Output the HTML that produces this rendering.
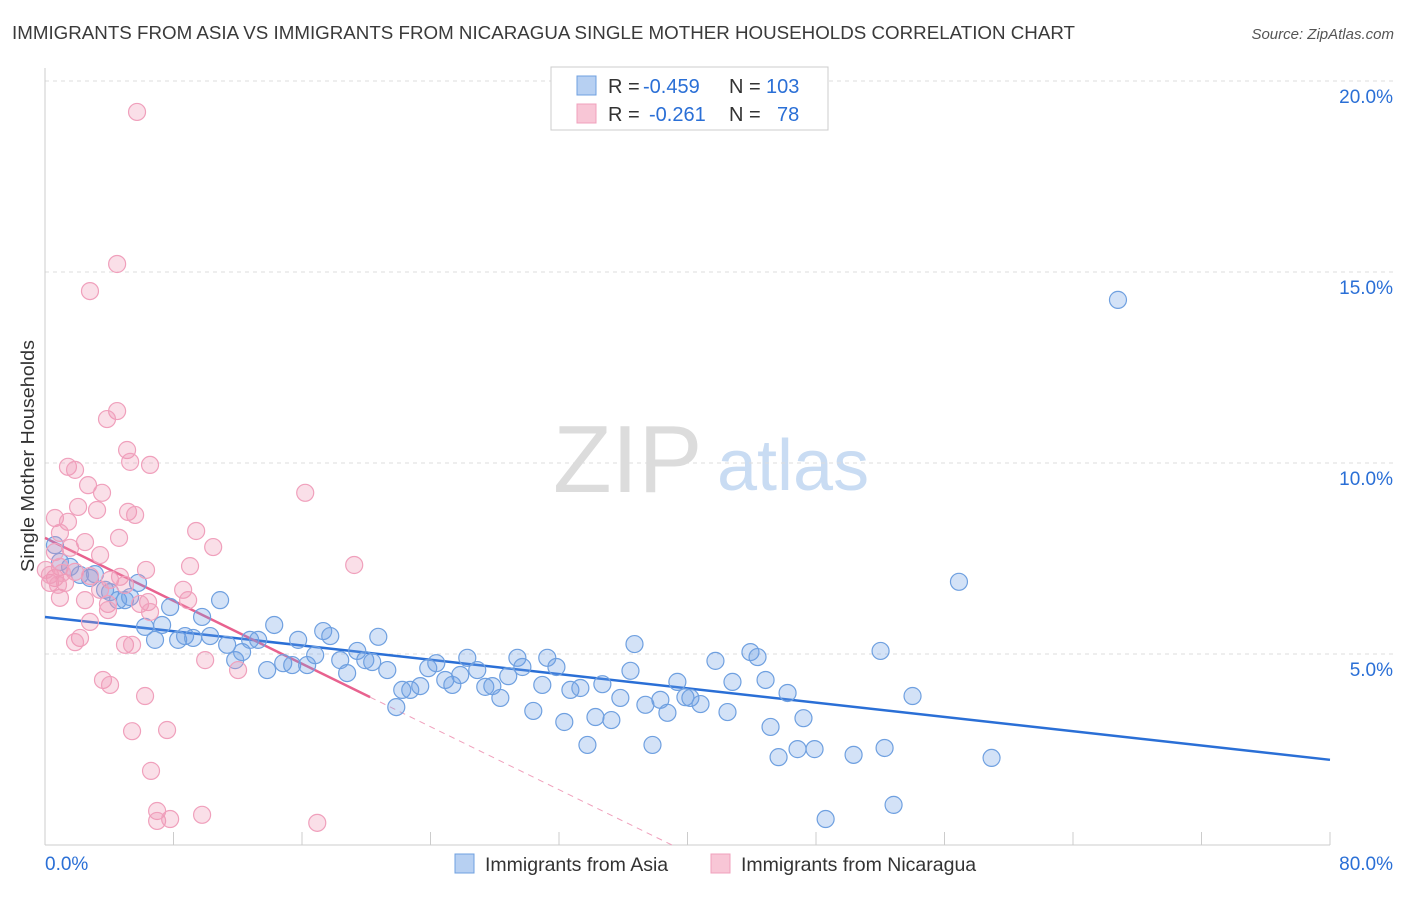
<!DOCTYPE html>
<html><head><meta charset="utf-8"><style>
body{margin:0;background:#fff;font-family:"Liberation Sans",sans-serif}
svg text{font-family:"Liberation Sans",sans-serif}
</style></head><body>
<svg id="chart" width="1406" height="892" xmlns="http://www.w3.org/2000/svg">
<text x="12" y="39" font-size="18.6" fill="#3a3a3a" textLength="1063" lengthAdjust="spacingAndGlyphs">IMMIGRANTS FROM ASIA VS IMMIGRANTS FROM NICARAGUA SINGLE MOTHER HOUSEHOLDS CORRELATION CHART</text>
<text x="1394" y="39" font-size="15" fill="#555" text-anchor="end" font-style="italic">Source: ZipAtlas.com</text>
<g>
<text x="553" y="492" font-size="96" fill="#dcdcdc" font-family="Liberation Serif,serif">ZIP</text>
<text x="717" y="490" font-size="72" fill="#c9dcf3">atlas</text>
</g>
<g id="grid"></g>
<g id="axes"></g>
<text transform="translate(34,456) rotate(-90)" font-size="18.5" fill="#333" text-anchor="middle" textLength="232" lengthAdjust="spacingAndGlyphs">Single Mother Households</text>
<g id="lines"></g>
<g id="pts"></g>
<g>
<rect x="551" y="67" width="277" height="63" fill="#fff" stroke="#ccc"/>
<rect x="577" y="76" width="19" height="19" fill="#b7d0f2" stroke="#6fa0e0"/>
<rect x="577" y="104" width="19" height="19" fill="#f8c6d6" stroke="#f0a0bc"/>
<text x="608" y="93" font-size="20" fill="#333">R =</text>
<text x="643" y="93" font-size="20" fill="#2a6fd6">-0.459</text>
<text x="729" y="93" font-size="20" fill="#333">N =</text>
<text x="766" y="93" font-size="20" fill="#2a6fd6">103</text>
<text x="608" y="121" font-size="20" fill="#333">R =</text>
<text x="649" y="121" font-size="20" fill="#2a6fd6">-0.261</text>
<text x="729" y="121" font-size="20" fill="#333">N =</text>
<text x="777" y="121" font-size="20" fill="#2a6fd6">78</text>
</g>
<g>
<rect x="455" y="854" width="19" height="19" fill="#b7d0f2" stroke="#6fa0e0"/>
<text x="485" y="871" font-size="19.5" fill="#333">Immigrants from Asia</text>
<rect x="711" y="854" width="19" height="19" fill="#f8c6d6" stroke="#f0a0bc"/>
<text x="741" y="871" font-size="19.5" fill="#333">Immigrants from Nicaragua</text>
</g>
</svg>
<script>
const asiaX=[66.8,56.9,0.62,0.93,1.56,2.18,2.80,3.11,3.74,4.05,4.55,4.98,5.30,5.79,6.23,6.85,7.29,7.79,8.29,8.72,9.22,9.78,10.28,10.90,11.34,11.84,12.27,12.77,13.27,13.83,14.27,14.83,15.39,15.76,16.32,16.82,17.32,17.76,18.38,18.81,19.44,19.94,20.37,20.75,21.31,21.87,22.24,22.74,23.36,23.86,24.36,24.92,25.36,25.85,26.29,26.91,27.41,27.85,28.35,28.84,29.41,29.72,30.40,30.96,31.27,31.84,32.33,32.71,33.33,33.77,34.27,34.70,35.26,35.82,36.45,36.70,37.38,37.82,38.31,38.75,39.37,39.87,40.18,40.81,41.74,42.49,42.80,43.92,44.36,44.86,45.17,45.67,46.23,46.85,47.22,47.91,48.60,50.34,52.02,52.27,52.83,54.01,58.93];
const asiaY=[14.27,6.89,7.85,7.41,7.28,7.07,6.99,7.09,6.68,6.62,6.41,6.41,6.49,6.86,5.71,5.37,5.76,6.23,5.37,5.47,5.42,5.97,5.47,6.41,5.24,4.84,5.05,5.37,5.37,4.58,5.76,4.76,4.71,5.37,4.71,4.97,5.60,5.47,4.84,4.50,5.08,4.84,4.79,5.45,4.58,3.61,4.06,4.06,4.16,4.63,4.76,4.32,4.19,4.45,4.90,4.58,4.14,4.16,3.85,4.42,4.90,4.66,3.51,4.19,4.90,4.66,3.22,4.06,4.11,2.62,3.35,4.21,3.27,3.85,4.56,5.26,3.67,2.62,3.80,3.46,4.27,3.87,3.85,3.69,4.82,3.48,4.27,5.05,4.92,4.32,3.09,2.30,3.98,2.51,3.32,2.51,0.68,2.36,5.08,2.54,1.05,3.90,2.28];
const nicX=[5.73,4.49,2.80,4.49,3.86,5.11,5.30,6.54,1.43,1.87,16.20,2.68,3.55,2.06,3.24,5.17,5.61,0.62,1.43,9.41,0.93,4.61,2.49,10.47,1.56,0.62,3.43,6.29,9.03,19.25,0.93,1.87,2.80,0.62,0.31,1.25,4.05,4.67,4.98,3.43,8.60,0.93,6.42,2.49,3.92,5.92,6.54,8.91,2.80,3.92,2.18,1.87,4.98,5.42,9.97,12.02,3.61,4.05,6.23,5.42,7.60,6.60,6.98,6.98,7.79,9.78,16.95,0.05,0.31,0.81,1.06];
const nicY=[19.19,15.21,14.50,11.36,11.15,10.34,10.03,9.95,9.90,9.82,9.22,9.42,9.22,8.85,8.77,8.72,8.64,8.56,8.46,8.22,8.17,8.04,7.93,7.80,7.78,7.67,7.59,7.20,7.30,7.33,7.28,7.15,7.04,6.99,6.86,6.86,6.94,7.02,6.81,6.68,6.68,6.47,6.36,6.41,6.31,6.31,6.10,6.41,5.84,6.15,5.42,5.31,5.24,5.24,4.84,4.58,4.32,4.19,3.90,2.98,3.01,1.94,0.89,0.63,0.68,0.79,0.58,7.20,7.07,6.81,7.12];
const asiaTrend=[5.97,2.23];
const nicTrend=[8.04,-0.206];
const yTicks=[5,10,15,20];
const NS="http://www.w3.org/2000/svg";
const X=v=>45+v/80*1285, Y=v=>845-v*38.2;
function mk(parent,tag,attrs){const e=document.createElementNS(NS,tag);for(const k in attrs)e.setAttribute(k,attrs[k]);document.getElementById(parent).appendChild(e);return e;}
yTicks.forEach(t=>{
 const l=mk('grid','line',{x1:45,x2:1394,y1:Y(t),y2:Y(t),stroke:'#ddd','stroke-dasharray':'4,4'});
 
 
 const tx=mk('axes','text',{x:1393,y:Y(t)+22,'font-size':19,fill:'#2a6fd6','text-anchor':'end'});
 tx.textContent=t.toFixed(1)+'%';
 
 
});
mk('axes','line',{x1:45,x2:45,y1:68,y2:845,stroke:'#ccc'});
mk('axes','line',{x1:45,x2:1330,y1:845,y2:845,stroke:'#ccc'});
for(let i=0;i<=10;i++){const t=mk('axes','line',{x1:X(i*8),x2:X(i*8),y1:845,y2:832,stroke:'#ccc'});}
const x0=mk('axes','text',{x:45,y:870,'font-size':19,fill:'#2a6fd6'});x0.textContent='0.0%';


const x1=mk('axes','text',{x:1393,y:870,'font-size':19,fill:'#2a6fd6','text-anchor':'end'});x1.textContent='80.0%';


asiaX.forEach((v,i)=>{const c=mk('pts','circle',{cx:X(v),cy:Y(asiaY[i]),r:8.5,fill:'rgba(110,160,230,0.3)',stroke:'#6fa0e0','stroke-width':1.2});
 
 });
nicX.forEach((v,i)=>{const c=mk('pts','circle',{cx:X(v),cy:Y(nicY[i]),r:8.5,fill:'rgba(240,150,180,0.3)',stroke:'#f0a0bc','stroke-width':1.2});
 
 });
const bl=mk('lines','line',{x1:X(0),y1:Y(asiaTrend[0]),x2:X(80),y2:Y(asiaTrend[1]),stroke:'#2a6fd6','stroke-width':2.5});


const pe=20.24,z=-nicTrend[0]/nicTrend[1];
const pl=mk('lines','line',{x1:X(0),y1:Y(nicTrend[0]),x2:X(pe),y2:Y(nicTrend[0]+nicTrend[1]*pe),stroke:'#e8628f','stroke-width':2.5});


const pd=mk('lines','line',{x1:X(pe),y1:Y(nicTrend[0]+nicTrend[1]*pe),x2:X(z),y2:Y(0),stroke:'#f0a0bc','stroke-width':1,'stroke-dasharray':'6,5'});


</script>
</body></html>
